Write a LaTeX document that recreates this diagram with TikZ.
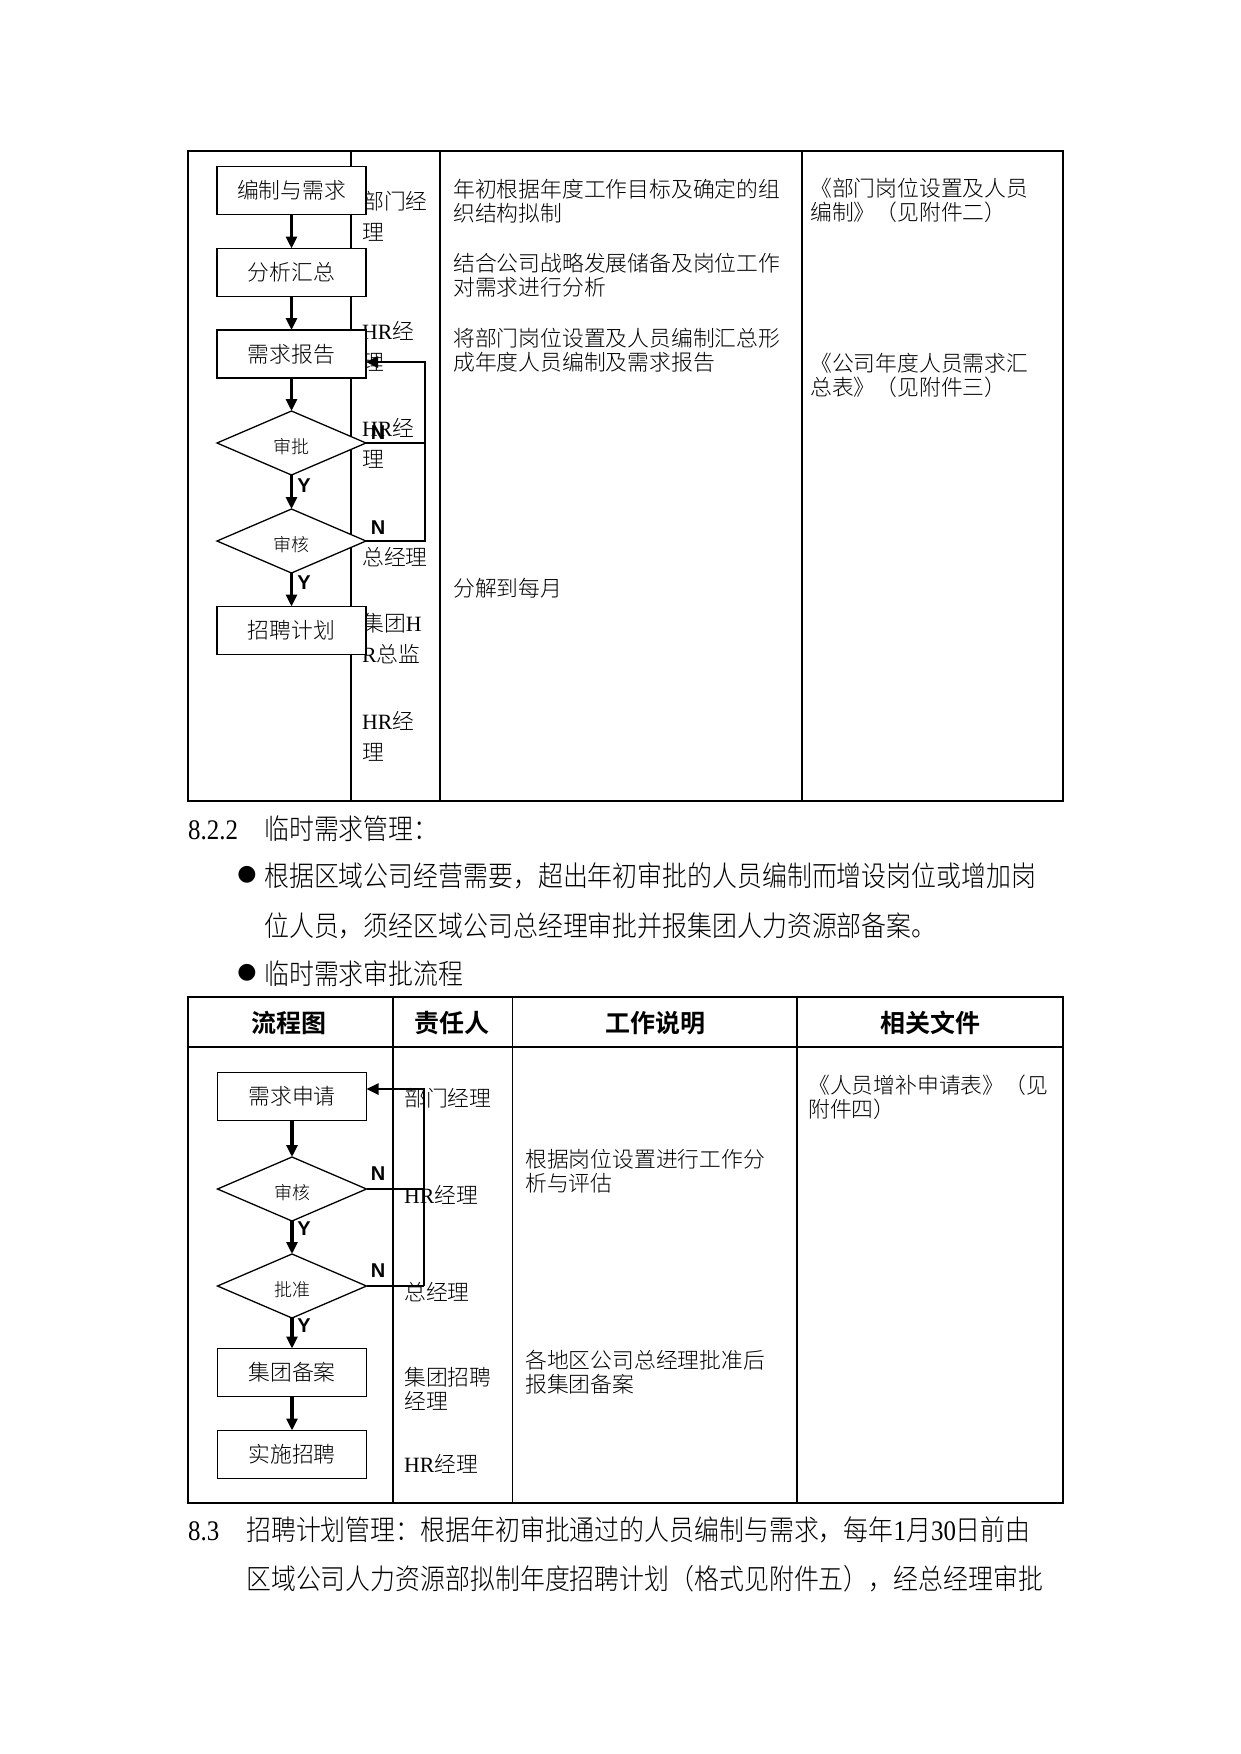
\documentclass[tikz,border=0pt]{standalone}
\usepackage{fontspec}
\usetikzlibrary{shapes.geometric,arrows.meta}
\setmainfont{Liberation Serif}
\newfontfamily\cjk{Noto Sans CJK SC}[UprightFont=* Light,BoldFont=* Bold]
\newfontfamily\cjkn{Noto Sans CJK SC}[UprightFont=* Light,BoldFont=* Bold,FakeStretch=0.88]
\newfontfamily\latf{Liberation Serif}
\newfontfamily\latn{Liberation Serif}[FakeStretch=0.88]
\newfontfamily\arialf{Liberation Sans}
\newfontfamily\dejavu{DejaVu Sans}
\newcommand\La[1]{{\latf #1}}
\newcommand\Ln[1]{{\latn #1}}
\begin{document}
\begin{tikzpicture}[x=1pt,y=-1pt,
  tline/.style={line width=1.4pt},
  fbox/.style={draw,line width=1.5pt,fill=white,minimum width=149pt,minimum height=48pt,inner sep=0pt,outer sep=0pt,font=\cjk\fontsize{21.8}{24}\selectfont},
  fdia/.style={diamond,draw,line width=1.3pt,fill=white,minimum width=149pt,minimum height=64pt,inner sep=0pt,outer sep=0pt,text height=21pt,text depth=0pt,font=\cjk\fontsize{18}{20}\selectfont},
  tip/.style={-{Triangle[width=11pt,length=12pt]}},
  farrow/.style={line width=3.3pt,tip},
  loopline/.style={line width=2.5pt},
  nline/.style={line width=1.3pt},
  yn/.style={font=\arialf\bfseries\fontsize{20}{20}\selectfont,inner sep=0pt},
  ttext/.style={anchor=base west,inner sep=0pt,align=left,font=\cjk\fontsize{21.8}{24.5}\selectfont},
  rtext/.style={anchor=base west,inner sep=0pt,align=left,font=\cjk\fontsize{21.8}{31}\selectfont},
  btext/.style={anchor=base west,inner sep=0pt,font=\cjkn\fontsize{28.3}{30}\selectfont},
  htext/.style={anchor=base,inner sep=0pt,font=\cjk\bfseries\fontsize{25}{25}\selectfont},
  bul/.style={inner sep=0pt,font=\dejavu\fontsize{22}{22}\selectfont},
]
\useasboundingbox (0,0) rectangle (1241,1754);
\fill[white] (0,0) rectangle (1241,1754);

% ---------- table 1 frame ----------
\draw[tline] (188,151) rectangle (1063,801);
\draw[tline] (351,151) -- (351,801);
\draw[tline] (440,151) -- (440,801);
\draw[tline] (802,151) -- (802,801);

% responsible persons (table 1) -- base anchor = last line
\node[rtext] (r1) at (362,240) {部门经\\理};
\node[rtext] (r2) at (362,370) {\La{HR}经\\理};
\node[rtext] (r3) at (362,467) {\La{HR}经\\理};
\node[rtext] (r4) at (362,565) {总经理};
\node[rtext] (r5) at (362,662) {集团\La{H}\\\La{R}总监};
\node[rtext] (r6) at (362,760) {\La{HR}经\\理};

% work description (table 1)
\node[ttext] (w1) at (453,221.5) {年初根据年度工作目标及确定的组\\织结构拟制};
\node[ttext] (w2) at (453,295.5) {结合公司战略发展储备及岗位工作\\对需求进行分析};
\node[ttext] (w3) at (453,370.5) {将部门岗位设置及人员编制汇总形\\成年度人员编制及需求报告};
\node[ttext] (w4) at (453,596) {分解到每月};

% files (table 1)
\node[ttext] (f1) at (810,220.5) {《部门岗位设置及人员\\编制》（见附件二）};
\node[ttext] (f2) at (810,395.5) {《公司年度人员需求汇\\总表》（见附件三）};

% flowchart 1
\node[fbox] (a1) at (291.5,190.5) {编制与需求};
\node[fbox] (a2) at (291.5,272.5) {分析汇总};
\node[fbox] (a3) at (291.5,354) {需求报告};
\node[fdia] (a4) at (291.5,443) {审批};
\node[fdia] (a5) at (291.5,541) {审核};
\node[fbox] (a6) at (291.5,630.5) {招聘计划};

\draw[farrow] (a1) -- (a2);
\draw[farrow] (a2) -- (a3);
\draw[farrow] (a3) -- (a4);
\draw[farrow] (a4) -- (a5);
\draw[farrow] (a5) -- (a6);

\coordinate (k1) at (425,362);
\draw[nline] (a4.east) -- (a4.east -| k1);
\draw[loopline,tip] (a5.east) -| (k1) -- (a3.east |- k1);

\node[yn] (n1) at (378,433) {N};
\node[yn] (n2) at (378,528) {N};
\node[yn] (y1) at (304,486) {Y};
\node[yn] (y2) at (304,583) {Y};

% ---------- body text ----------
\node[btext] (s1a) at (188,839) {\Ln{8.2.2}};
\node[btext] (s1b) at (264,839) {临时需求管理：};
\node[bul] (bu1) at (247,875) {●};
\node[btext] (p1) at (264,886) {根据区域公司经营需要，超出年初审批的人员编制而增设岗位或增加岗};
\node[btext] (p2) at (264,936) {位人员，须经区域公司总经理审批并报集团人力资源部备案。};
\node[bul] (bu2) at (247,973) {●};
\node[btext] (p3) at (264,984) {临时需求审批流程};

% ---------- table 2 frame ----------
\draw[tline] (188,997) rectangle (1063,1503);
\draw[tline] (188,1047) -- (1063,1047);
\draw[tline] (393,997) -- (393,1503);
\draw[tline] (512.5,997) -- (512.5,1503);
\draw[tline] (797,997) -- (797,1503);

\node[htext] (h1) at (289,1032) {流程图};
\node[htext] (h2) at (452,1032) {责任人};
\node[htext] (h3) at (655,1032) {工作说明};
\node[htext] (h4) at (930,1032) {相关文件};

\node[ttext] (q1) at (404,1106) {部门经理};
\node[ttext] (q2) at (404,1203) {\La{HR}经理};
\node[ttext] (q3) at (404,1300) {总经理};
\node[ttext] (q4) at (404,1409.5) {集团招聘\\经理};
\node[ttext] (q5) at (404,1472) {\La{HR}经理};

\node[ttext] (u1) at (525,1191.5) {根据岗位设置进行工作分\\析与评估};
\node[ttext] (u2) at (525,1392.5) {各地区公司总经理批准后\\报集团备案};

\node[ttext] (g1) at (808,1117.5) {《人员增补申请表》（见\\附件四）};

% flowchart 2
\node[fbox] (c1) at (292,1096.5) {需求申请};
\node[fdia] (c2) at (292,1189) {审核};
\node[fdia] (c3) at (292,1286) {批准};
\node[fbox] (c4) at (292,1372.5) {集团备案};
\node[fbox] (c5) at (292,1454.5) {实施招聘};

\draw[farrow] (c1) -- (c2);
\draw[farrow] (c2) -- (c3);
\draw[farrow] (c3) -- (c4);
\draw[farrow] (c4) -- (c5);

\coordinate (k2) at (424,1089);
\draw[nline] (c2.east) -- (c2.east -| k2);
\draw[nline] (c3.east) -- (c3.east -| k2);
\draw[loopline,tip] (c3.east -| k2) -- (k2) -- (c1.east |- k2);

\node[yn] (n3) at (378,1174) {N};
\node[yn] (n4) at (378,1271) {N};
\node[yn] (y3) at (304,1229) {Y};
\node[yn] (y4) at (304,1326) {Y};

% ---------- 8.3 ----------
\node[btext] (t1a) at (188,1540) {\Ln{8.3}};
\node[btext] (t1b) at (246,1540) {招聘计划管理：根据年初审批通过的人员编制与需求，每年\Ln{1}月\Ln{30}日前由};
\node[btext] (t2) at (246,1589) {区域公司人力资源部拟制年度招聘计划（格式见附件五），经总经理审批};
\end{tikzpicture}
\end{document}
